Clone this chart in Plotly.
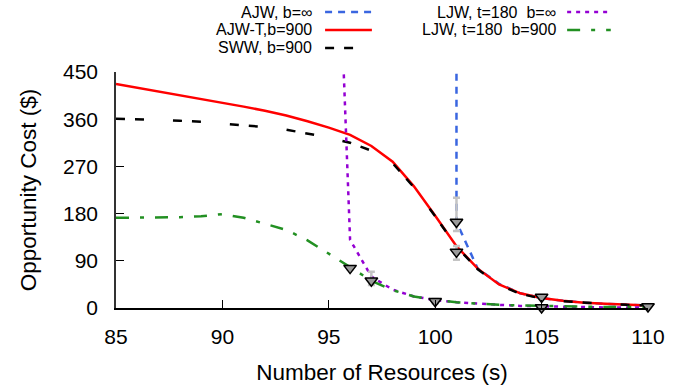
import plotly.graph_objects as go

# ---------------- data ----------------
x_res = list(range(85, 111))
ajwt_b900 = [427, 420, 413, 406, 399, 392, 384, 376, 367, 356, 344, 330, 309,
             279, 232, 176, 118, 75, 45, 28, 19, 14, 10, 8, 6, 5]
sww_b900 = [361, 360, 358, 357, 355, 352, 348, 345, 340, 333, 325, 315, 300,
            276, 230, 175, 117, 74, 44, 27, 18, 13, 10, 8, 6, 5]
ljw_b900 = [172, 172, 172, 173, 175, 179, 172, 161, 149, 129, 104, 78, 52,
            34, 22, 15, 11, 8, 6, 5, 4, 3, 3, 2, 2, 2]

ajw_binf_x = [101, 101, 102, 103, 104, 105, 106, 107, 108, 109, 110]
ajw_binf_y = [3000, 164, 75, 46, 28, 19, 14, 10, 8, 6, 5]

ljw_binf_x = [95, 96, 97, 98, 99, 100, 101, 102, 103, 104, 105, 106, 107, 108, 109, 110]
ljw_binf_y = [1200, 130, 60, 35, 22, 15, 11, 8, 6, 4, 3, 2, 2, 1, 1, 1]

sim_x = [96, 97, 100, 101, 101, 105, 105, 110]
sim_y = [76, 52, 13, 164, 107, 21, 1, 3]
sim_err_plus = [3, 17, 4, 46, 11, 4, 2, 2]
sim_err_minus = [3, 8, 4, 17, 15, 4, 1, 2]

x_ticks = [85, 90, 95, 100, 105, 110]
y_ticks = [0, 90, 180, 270, 360, 450]

labels = ["AJW, b=∞", "AJW-T,b=900", "SWW, b=900",
          "LJW, t=180  b=∞", "LJW, t=180  b=900"]

# ---------------- styles ----------------
C_BLUE = "#3a66e0"
C_RED = "#ff0000"
C_BLACK = "#000000"
C_PURPLE = "#9400d3"
C_GREEN = "#229022"
D_BLUE = "7px,6px"
D_BLACK = "9px,10px,9px,29px"
D_PURPLE = "4px,5px"
D_GREEN = "13px,11px,4px,11px"
LW = 2.5
FONT = "Liberation Sans, Arial, sans-serif"

fig = go.Figure()
fig.add_trace(go.Scatter(x=ajw_binf_x, y=ajw_binf_y, mode="lines",
                         line=dict(color=C_BLUE, width=LW, dash=D_BLUE), showlegend=False))
fig.add_trace(go.Scatter(x=x_res, y=ajwt_b900, mode="lines",
                         line=dict(color=C_RED, width=LW), showlegend=False))
fig.add_trace(go.Scatter(x=x_res, y=sww_b900, mode="lines",
                         line=dict(color=C_BLACK, width=LW, dash=D_BLACK), showlegend=False))
fig.add_trace(go.Scatter(x=ljw_binf_x, y=ljw_binf_y, mode="lines",
                         line=dict(color=C_PURPLE, width=LW, dash=D_PURPLE), showlegend=False))
fig.add_trace(go.Scatter(x=x_res, y=ljw_b900, mode="lines",
                         line=dict(color=C_GREEN, width=LW, dash=D_GREEN), showlegend=False))
fig.add_trace(go.Scatter(x=sim_x, y=sim_y, mode="markers",
                         marker=dict(symbol="triangle-down", size=11, color="#9a9a9a",
                                     line=dict(color="black", width=1.5)),
                         error_y=dict(type="data", symmetric=False, array=sim_err_plus,
                                      arrayminus=sim_err_minus, color="#c4c4c4",
                                      thickness=2.5, width=3.5),
                         showlegend=False, cliponaxis=False))

# ---------------- manual legend (paper coords) ----------------
styles = [(C_BLUE, D_BLUE), (C_RED, "solid"), (C_BLACK, D_BLACK),
          (C_PURPLE, D_PURPLE), (C_GREEN, D_GREEN)]
rows = [1.254, 1.178, 1.102, 1.254, 1.178]
text_x = [0.370, 0.370, 0.370, 0.829, 0.829]
samp_x = [(0.393, 0.481), (0.393, 0.481), (0.393, 0.481), (0.848, 0.930), (0.848, 0.930)]
for lab, (col, dsh), ry, tx, (s0, s1) in zip(labels, styles, rows, text_x, samp_x):
    fig.add_annotation(x=tx, y=ry, xref="paper", yref="paper", text=lab, showarrow=False,
                       xanchor="right", yanchor="middle", borderpad=0,
                       font=dict(size=16, color="black", family=FONT))
    fig.add_shape(type="line", xref="paper", yref="paper", x0=s0, x1=s1, y0=ry, y1=ry,
                  line=dict(color=col, width=LW, dash=dsh))

fig.update_layout(
    width=693, height=385,
    margin=dict(l=116, r=45, t=72, b=77),
    plot_bgcolor="white", paper_bgcolor="white",
    font=dict(family=FONT, color="black"),
    showlegend=False,
)
fig.update_xaxes(range=[85, 110], tickvals=x_ticks, ticks="inside", ticklen=8,
                 tickcolor="black", tickwidth=1.2, showline=True, linecolor="black",
                 linewidth=1.5, showgrid=False, zeroline=False, automargin=False,
                 tickfont=dict(size=21), ticklabelstandoff=9,
                 title=dict(text="Number of Resources (s)", font=dict(size=22.5), standoff=17))
fig.update_yaxes(range=[0, 450], tickvals=y_ticks, ticks="inside", ticklen=8,
                 tickcolor="black", tickwidth=1.2, showline=True, linecolor="#333333",
                 linewidth=1.5, showgrid=False, zeroline=False, automargin=False,
                 tickfont=dict(size=21), ticklabelstandoff=12,
                 title=dict(text="Opportunity Cost ($)", font=dict(size=22.5), standoff=20))

fig.write_html("out.html")
